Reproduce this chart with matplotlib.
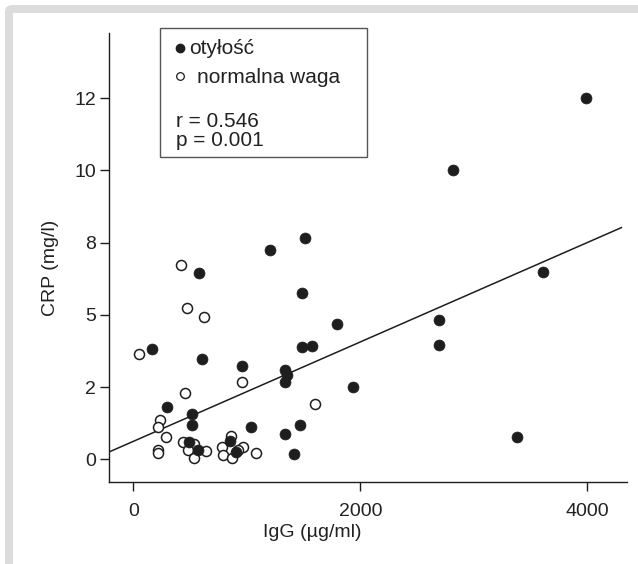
import matplotlib
matplotlib.use("Agg")
import matplotlib.pyplot as plt
from matplotlib.lines import Line2D
from matplotlib.patches import Rectangle, FancyBboxPatch
import numpy as np

plt.rcParams['font.family'] = ['Liberation Sans', 'DejaVu Sans']

# ---- data ----
obese_igg = [1513, 1207, 579, 1489, 1792, 162, 1489, 1575, 603, 955, 1339, 1352, 1339,
             1933, 297, 515, 515, 1034, 1471, 1339, 493, 852, 573, 905, 1416,
             3990, 2814, 3610, 2694, 2694, 3378]
obese_crp = [7.67, 7.23, 6.46, 5.74, 4.68, 3.81, 3.89, 3.93, 3.48, 3.24, 3.09, 2.92, 2.67,
             2.51, 1.80, 1.57, 1.19, 1.13, 1.20, 0.89, 0.59, 0.63, 0.32, 0.26, 0.17,
             12.51, 10.0, 6.49, 4.82, 3.96, 0.76]
normal_igg = [418, 473, 626, 50, 960, 456, 1601, 238, 215, 291, 435, 535, 858, 779, 971,
              215, 220, 480, 531, 645, 790, 870, 925, 1085]
normal_crp = [6.72, 5.25, 4.91, 3.64, 2.67, 2.30, 1.90, 1.36, 1.11, 0.77, 0.61, 0.53, 0.81,
              0.44, 0.43, 0.32, 0.21, 0.32, 0.03, 0.29, 0.14, 0.03, 0.33, 0.22]
fit_intercept = 0.62
fit_slope = 0.00172

xticks = [0, 2000, 4000]
xtick_labels = ["0", "2000", "4000"]
yticks = [0, 2.5, 5, 7.5, 10, 12.5]
ytick_labels = ["0", "2", "5", "8", "10", "12"]

legend_labels = ["otyłość", "normalna waga"]
stats_lines = ["r = 0.546", "p = 0.001"]
xlabel = "IgG (µg/ml)"
ylabel = "CRP (mg/l)"

# ---- figure ----
W, H = 638, 564
fig = plt.figure(figsize=(W / 100, H / 100), dpi=100)

def fx(px):
    return px / W

def fy(py):
    return 1 - py / H

# gray frame (top and left bands)
frame = FancyBboxPatch((fx(5), fy(700)), fx(800), fy(5) - fy(700),
                       boxstyle="round,pad=0,rounding_size=0.012",
                       transform=fig.transFigure, facecolor="#dcdcdc",
                       edgecolor="none", zorder=-3)
fig.add_artist(frame)
inner = Rectangle((fx(13), fy(700)), fx(800), fy(13) - fy(700),
                  transform=fig.transFigure, facecolor="white", edgecolor="none", zorder=-2)
fig.add_artist(inner)

ax = fig.add_axes([fx(109.3), fy(481.7), fx(626.7) - fx(109.3), fy(33) - fy(481.7)])
ax.set_facecolor("none")

dark = "#1e1e1e"
ax.scatter(normal_igg, normal_crp, s=52, facecolors="white", edgecolors=dark,
           linewidths=1.1, zorder=3)
ax.scatter(obese_igg, obese_crp, s=62, facecolors=dark, edgecolors=dark,
           linewidths=0.5, zorder=4)

xmin, xmax = -211, 4347
ymin, ymax = -0.775, 14.75
xs = np.array([xmin, 4300])
ax.plot(xs, fit_intercept + fit_slope * xs, color=dark, lw=1.1, zorder=2)

ax.set_xlim(xmin, xmax)
ax.set_ylim(ymin, ymax)
ax.set_xticks(xticks)
ax.set_xticklabels(xtick_labels)
ax.set_yticks(yticks)
ax.set_yticklabels(ytick_labels)

for s in ["top", "right"]:
    ax.spines[s].set_visible(False)
for s in ["left", "bottom"]:
    ax.spines[s].set_color(dark)
    ax.spines[s].set_linewidth(1.0)

ax.tick_params(axis="both", direction="out", length=6.5, width=1.0, color=dark,
               labelsize=14, labelcolor="#222222")
ax.tick_params(axis="x", pad=9)
ax.tick_params(axis="y", pad=3)

ax.set_xlabel(xlabel, fontsize=14, color="#222222", labelpad=6)
ax.xaxis.set_label_coords((312 - 109.3) / 517.4, -0.095)
ax.set_ylabel(ylabel, fontsize=14, color="#222222", labelpad=10)
ax.yaxis.set_label_coords(-0.098, (481.7 - 268) / 448.7)

# legend / annotation box
box = Rectangle((fx(160), fy(157)), fx(367) - fx(160), fy(28) - fy(157),
                transform=fig.transFigure, facecolor="white", edgecolor="#555555",
                linewidth=1.0, zorder=5)
fig.add_artist(box)
fig.add_artist(Line2D([fx(180)], [fy(47.5)], marker="o", markersize=6, color=dark,
                      markerfacecolor=dark, transform=fig.transFigure, zorder=6))
fig.add_artist(Line2D([fx(179.5)], [fy(76)], marker="o", markersize=5.5, color=dark,
                      markerfacecolor="white", markeredgewidth=0.9,
                      transform=fig.transFigure, zorder=6))
fs_leg = 15
fig.text(fx(189), fy(49), legend_labels[0], fontsize=fs_leg, color="#222222",
         va="center", ha="left", zorder=6)
fig.text(fx(197), fy(77.5), legend_labels[1], fontsize=fs_leg, color="#222222",
         va="center", ha="left", zorder=6)
fig.text(fx(176), fy(121.5), stats_lines[0], fontsize=fs_leg, color="#222222",
         va="center", ha="left", zorder=6)
fig.text(fx(176), fy(140), stats_lines[1], fontsize=fs_leg, color="#222222",
         va="center", ha="left", zorder=6)

fig.savefig("out.png", dpi=100)
